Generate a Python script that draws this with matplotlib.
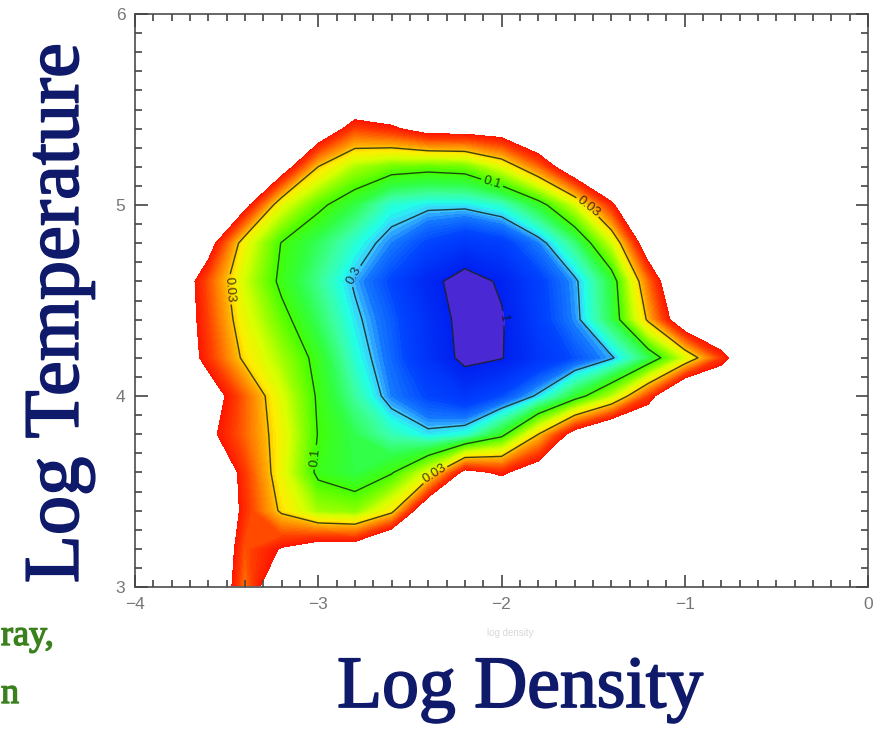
import numpy as np
import matplotlib
matplotlib.use("Agg")
import matplotlib.pyplot as plt
import matplotlib.patheffects as pe
from matplotlib.colors import LinearSegmentedColormap
from matplotlib.ticker import MultipleLocator

# ---- data (log10 of mass fraction on a Log Density / Log Temperature grid) ----
log_density = [-3.8, -3.6, -3.4, -3.2, -3.0, -2.8, -2.6, -2.4, -2.2, -2.0,
               -1.8, -1.6, -1.4, -1.2, -1.0, -0.8, -0.6]
log_temperature = [3.0, 3.2, 3.4, 3.6, 3.8, 4.0, 4.2, 4.4, 4.6, 4.8, 5.0, 5.2, 5.4, 5.6]

row_t30 = [-2.5, -2.5, -1.72, -2.4, -2.5, -2.5, -2.5, -2.5, -2.5, -2.5, -2.5, -2.5, -2.5, -2.5, -2.5, -2.5, -2.5]
row_t32 = [-2.5, -2.5, -1.8, -2.02, -2.2, -2.2, -2.6, -2.5, -2.5, -2.5, -2.5, -2.5, -2.5, -2.5, -2.5, -2.5, -2.5]
row_t34 = [-2.5, -2.5, -1.91, -1.48, -1.2, -1.15, -1.45, -2.35, -2.5, -2.5, -2.5, -2.5, -2.5, -2.5, -2.5, -2.5, -2.5]
row_t36 = [-2.5, -2.5, -1.87, -1.38, -0.95, -0.85, -0.98, -1.35, -2.1, -1.95, -2.2, -2.5, -2.5, -2.5, -2.5, -2.5, -2.5]
row_t38 = [-2.5, -2.08, -1.75, -1.4, -0.99, -0.83, -0.67, -0.56, -0.62, -0.93, -1.52, -2.15, -2.5, -2.5, -2.5, -2.5, -2.5]
row_t40 = [-2.5, -2.2, -1.76, -1.33, -0.97, -0.71, -0.45, -0.3, -0.2, -0.33, -0.55, -0.89, -1.26, -1.86, -2.6, -2.5, -2.5]
row_t42 = [-2.35, -1.89, -1.47, -1.2, -0.93, -0.62, -0.4, -0.16, 0.06, 0.01, -0.18, -0.34, -0.5, -0.83, -1.32, -1.88, -2.5]
row_t44 = [-2.35, -1.84, -1.37, -1.07, -0.81, -0.56, -0.37, -0.14, 0.08, 0.02, -0.25, -0.47, -0.84, -1.56, -2.3, -2.5, -2.5]
row_t46 = [-2.35, -1.8, -1.29, -0.95, -0.73, -0.5, -0.3, -0.07, 0.1, -0.03, -0.27, -0.49, -0.87, -1.74, -2.5, -2.5, -2.5]
row_t48 = [-2.5, -2.15, -1.39, -0.99, -0.81, -0.62, -0.45, -0.3, -0.2, -0.26, -0.45, -0.77, -1.3, -2.23, -2.5, -2.5, -2.5]
row_t50 = [-2.5, -2.5, -2.1, -1.36, -1.05, -0.85, -0.62, -0.56, -0.56, -0.64, -0.9, -1.31, -1.95, -2.5, -2.5, -2.5, -2.5]
row_t52 = [-2.5, -2.5, -2.5, -2.2, -1.52, -1.22, -1.1, -1.07, -1.1, -1.35, -1.74, -2.3, -2.5, -2.5, -2.5, -2.5, -2.5]
row_t54 = [-2.5, -2.5, -2.5, -2.5, -2.3, -1.85, -1.95, -2.15, -2.15, -2.2, -2.5, -2.5, -2.5, -2.5, -2.5, -2.5, -2.5]
row_t56 = [-2.5, -2.5, -2.5, -2.5, -2.5, -2.5, -2.5, -2.5, -2.5, -2.5, -2.5, -2.5, -2.5, -2.5, -2.5, -2.5, -2.5]

fill_min_fraction = 0.01
contour_values = [0.03, 0.1, 0.3, 1.0]
contour_texts = ["0.03", "0.1", "0.3", "1"]
x_ticks = [-4, -3, -2, -1, 0]
y_ticks = [3, 4, 5, 6]

# ---- figure ----
plt.rcParams["font.family"] = ["Liberation Sans", "DejaVu Sans"]
fig = plt.figure(figsize=(8.75, 7.33), dpi=100)
fig.patch.set_facecolor("white")
ax = fig.add_axes([135 / 875, 1 - 587 / 733, (868 - 135) / 875, (587 - 14) / 733])

Z = np.array([row_t30, row_t32, row_t34, row_t36, row_t38, row_t40, row_t42,
              row_t44, row_t46, row_t48, row_t50, row_t52, row_t54, row_t56])
X, Y = np.meshgrid(log_density, log_temperature)

stops = [
    (0.00, "#ff1400"), (0.075, "#ff3a00"), (0.15, "#ff7800"), (0.225, "#ffb400"),
    (0.275, "#ffec00"), (0.35, "#d8ff00"), (0.425, "#8cff00"), (0.50, "#44ff00"),
    (0.575, "#30ff40"), (0.65, "#3cffa0"), (0.71, "#20ffe8"), (0.74, "#40c8ff"),
    (0.78, "#1478ff"), (0.85, "#0044ff"), (1.00, "#0020f0"),
]
cmap = LinearSegmentedColormap.from_list("idl_rainbow", stops, N=512)
cmap.set_over("#4a28d4")

lo = np.log10(fill_min_fraction)
fill_levels = np.linspace(lo, 0.0, 81)
ax.contourf(X, Y, Z, levels=fill_levels, cmap=cmap, extend="max", antialiased=False)

line_levels = np.log10(contour_values)
cs = ax.contour(X, Y, Z, levels=line_levels, colors="#102010", linewidths=1.0,
                alpha=0.8, linestyles="solid")
fmt = {lev: txt for lev, txt in zip(cs.levels, contour_texts)}
label_pos = [(-3.55, 4.55), (-1.52, 5.0), (-2.35, 3.57), (-2.05, 5.12),
             (-3.02, 3.68), (-2.84, 4.65), (-2.03, 4.4)]
ax.clabel(cs, fmt=fmt, manual=label_pos, inline=True, fontsize=9.5, colors="#101010")

ax.set_xlim(-4, 0)
ax.set_ylim(3, 6)
ax.set_xticks(x_ticks)
ax.set_yticks(y_ticks)
ax.set_xticklabels(["\u22124", "\u22123", "\u22122", "\u22121", "0"])
ax.set_yticklabels([str(t) for t in y_ticks])
ax.xaxis.set_minor_locator(MultipleLocator(0.1))
ax.yaxis.set_minor_locator(MultipleLocator(0.1))
ax.tick_params(which="both", direction="in", top=True, right=True, bottom=True, left=True,
               colors="#444444", labelcolor="#777777", labelsize=12.5)
ax.tick_params(which="major", length=9, width=1.2, pad=7)
ax.tick_params(which="minor", length=5, width=1.2)
for s in ax.spines.values():
    s.set_color("#666666")
    s.set_linewidth(1.4)
ax.set_axisbelow(False)

# faint original axis title
fig.text(510 / 875, 1 - 633 / 733, "log density", ha="center", va="center",
         fontsize=7, color="#d8d8d8")

navy = "#0f1a6a"
serif = ["Liberation Serif", "DejaVu Serif"]
heavy = [pe.withStroke(linewidth=1.3, foreground=navy)]
fig.text(520 / 875, 1 - 707 / 733, "Log Density", ha="center", va="baseline",
         fontsize=53, color=navy, family=serif, path_effects=heavy)
fig.text(59 / 875, 1 - 313 / 733, "Log Temperature", ha="center", va="center",
         rotation=90, fontsize=56.5, color=navy, family=serif, path_effects=heavy)

green = "#3a801c"
gheavy = [pe.withStroke(linewidth=1.0, foreground=green)]
fig.text(1 / 875, 1 - 645 / 733, "ray,", ha="left", va="baseline", fontsize=26,
         color=green, family=serif, path_effects=gheavy)
fig.text(1 / 875, 1 - 703 / 733, "n", ha="left", va="baseline", fontsize=26,
         color=green, family=serif, path_effects=gheavy)

fig.savefig("out.png", dpi=100, facecolor="white")
